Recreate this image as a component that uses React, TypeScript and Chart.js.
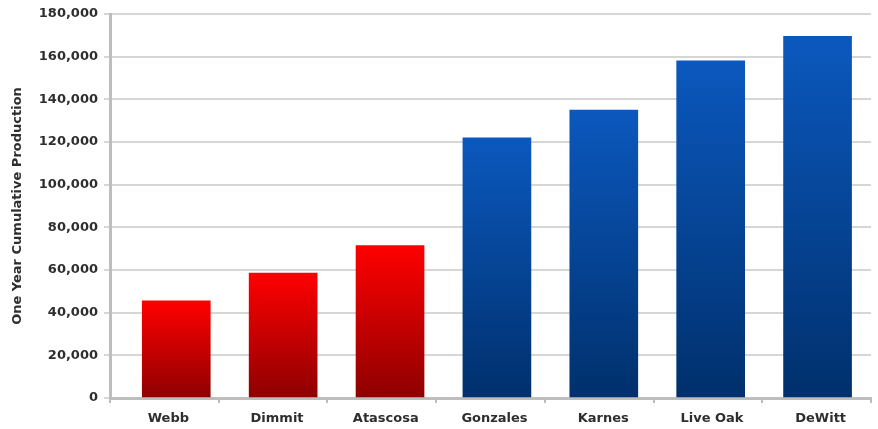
import React, { useEffect, useRef } from "react";
import { Chart, registerables } from "chart.js";

Chart.register(...registerables);

const categories = ["Webb", "Dimmit", "Atascosa", "Gonzales", "Karnes", "Live Oak", "DeWitt"];
const production = [45500, 58500, 71500, 122000, 135000, 158000, 169500];
const barGroups = ["red", "red", "red", "blue", "blue", "blue", "blue"];
const yMax = 180000;
const yStep = 20000;
const yTitle = "One Year Cumulative Production";

const gradientStops: Record<string, [string, string]> = {
  red: ["#ff0000", "#8e0000"],
  blue: ["#0b58be", "#00306c"],
};

export default function App() {
  const canvasRef = useRef<HTMLCanvasElement | null>(null);

  useEffect(() => {
    document.body.style.margin = "0";
    const canvas = canvasRef.current;
    if (!canvas) return;
    const points = production.map((v, i) => ({ x: i, y: v }));
    const chart = new Chart(canvas, {
      type: "bar",
      data: {
        labels: categories,
        datasets: [
          {
            data: points as any,
            xAxisID: "xb",
            backgroundColor: (ctx: any) => {
              const c = ctx.chart;
              const grp = barGroups[ctx.dataIndex] || "blue";
              const stops = gradientStops[grp];
              const ys = c.scales && c.scales.y;
              const v = production[ctx.dataIndex];
              if (!ys || typeof v !== "number") return stops[0];
              const top = ys.getPixelForValue(v);
              const bottom = ys.getPixelForValue(0);
              if (!isFinite(top) || !isFinite(bottom) || top === bottom) return stops[0];
              const g = c.ctx.createLinearGradient(0, top, 0, bottom);
              g.addColorStop(0, stops[0]);
              g.addColorStop(1, stops[1]);
              return g;
            },
            borderWidth: 0,
            barThickness: 68,
          },
        ],
      },
      options: {
        animation: false,
        responsive: true,
        maintainAspectRatio: false,
        layout: { padding: { top: 14, right: 7, left: 0, bottom: 0 } },
        plugins: {
          legend: { display: false },
          tooltip: { enabled: false },
        },
        scales: {
          xb: {
            type: "linear",
            display: false,
            min: -0.62,
            max: 6.5,
            offset: false,
          },
          x: {
            type: "category",
            grid: {
              display: true,
              drawOnChartArea: false,
              offset: true,
              tickLength: 5,
              color: "#bdbdbd",
              lineWidth: 2,
            },
            border: { color: "#bdbdbd", width: 3 },
            ticks: {
              color: "#2e2e2e",
              font: { family: "DejaVu Sans", weight: "bold", size: 13 },
              padding: 8,
              labelOffset: 4,
            },
            afterFit: (scale: any) => {
              scale.height = 31;
            },
          },
          y: {
            min: 0,
            max: yMax,
            ticks: {
              stepSize: yStep,
              color: "#2e2e2e",
              font: { family: "DejaVu Sans", weight: "bold", size: 13 },
              padding: 6,
              callback: (v: any) => Number(v).toLocaleString("en-US"),
            },
            grid: {
              color: "#d6d6d6",
              lineWidth: 2,
              tickLength: 6,
            },
            border: { color: "#bdbdbd", width: 3 },
            title: {
              display: true,
              text: yTitle,
              color: "#2e2e2e",
              font: { family: "DejaVu Sans", weight: "bold", size: 13 },
              padding: { top: 10, bottom: 0 },
            },
            afterFit: (scale: any) => {
              scale.width = 110;
            },
          },
        },
      },
    });
    return () => chart.destroy();
  }, []);

  return (
    <div style={{ width: 878, height: 429, position: "relative", background: "#ffffff" }}>
      <canvas ref={canvasRef} />
    </div>
  );
}
